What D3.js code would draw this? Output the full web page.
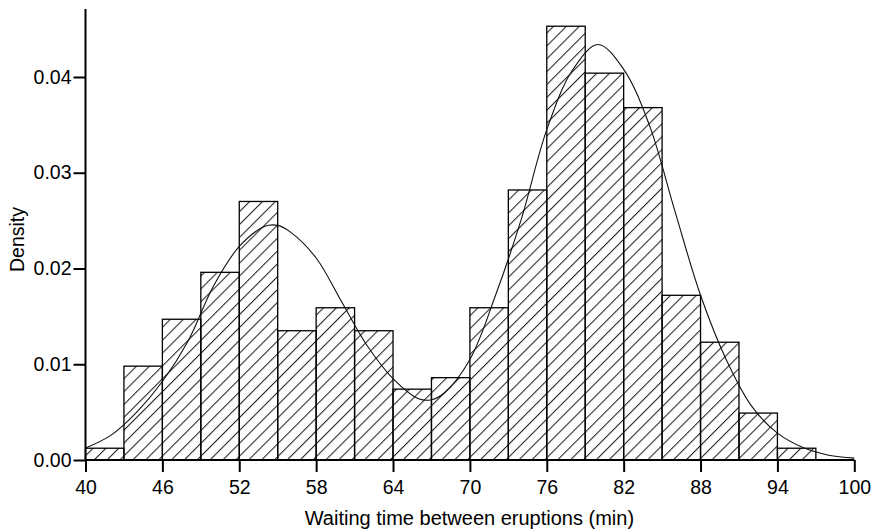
<!DOCTYPE html>
<html>
<head>
<meta charset="utf-8">
<script src="https://cdn.jsdelivr.net/npm/d3@7"></script>
<style>
  html, body { margin: 0; padding: 0; background: #fff; }
  svg { display: block; font-family: "Liberation Sans", Arial, Helvetica, sans-serif; }
</style>
</head>
<body>
<svg id="chart" width="875" height="532"></svg>
<script>
// ---- data ----
const binStarts = [40,43,46,49,52,55,58,61,64,67,70,73,76,79,82,85,88,91,94];
const binWidth = 3;
const densities = [0.00123,0.0098,0.0147,0.0196,0.0270,0.0135,0.0159,0.0135,0.0074,0.0086,
                   0.0159,0.0282,0.0453,0.0404,0.0368,0.0172,0.0123,0.0049,0.00123];
const curveX = [40,42,44,46,48,50,52,54,55,56,58,60,62,64,66,67,68,70,72,74,76,78,80,82,84,86,88,90,92,94,96,98,100];
const curveY = [0.00125,0.0026,0.0050,0.0082,0.0124,0.0182,0.0223,0.0244,0.0245,0.0238,0.0211,0.0165,0.0119,0.0085,
                0.0064,0.0063,0.0070,0.0105,0.0172,0.0251,0.0345,0.0407,0.0434,0.0408,0.0350,0.0260,0.0172,0.0105,
                0.0056,0.0028,0.0013,0.0005,0.0002];
const xTicks = [40,46,52,58,64,70,76,82,88,94,100];
const yTicks = [0,0.01,0.02,0.03,0.04];
const yTickLabels = ["0.00","0.01","0.02","0.03","0.04"];
const xTitle = "Waiting time between eruptions (min)";
const yTitle = "Density";

// ---- drawing ----
const svg = d3.select("#chart");
const x = d3.scaleLinear().domain([40, 100]).range([85.5, 854.3]);
const y = d3.scaleLinear().domain([0, 0.0471]).range([460, 9]);

const defs = svg.append("defs");
const pat = defs.append("pattern")
  .attr("id", "hatch")
  .attr("patternUnits", "userSpaceOnUse")
  .attr("width", 9.1).attr("height", 9.1)
  .attr("patternTransform", "rotate(45)");
pat.append("line")
  .attr("x1", 0.5).attr("y1", 0).attr("x2", 0.5).attr("y2", 9.1)
  .attr("stroke", "#222").attr("stroke-width", 1.1);

// bars
svg.append("g").selectAll("rect")
  .data(binStarts.map((s, i) => ({s, d: densities[i]})))
  .join("rect")
  .attr("x", d => x(d.s))
  .attr("width", d => x(d.s + binWidth) - x(d.s))
  .attr("y", d => y(d.d))
  .attr("height", d => y(0) - y(d.d))
  .attr("fill", "url(#hatch)")
  .attr("stroke", "#000")
  .attr("stroke-width", 1.3);

// density curve
const line = d3.line()
  .x((d, i) => x(curveX[i]))
  .y(d => y(d))
  .curve(d3.curveCatmullRom.alpha(0.5));
svg.append("path")
  .attr("d", line(curveY))
  .attr("fill", "none")
  .attr("stroke", "#111")
  .attr("stroke-width", 1.1);

// axes
const xAxis = d3.axisBottom(x).tickValues(xTicks).tickSize(12).tickPadding(8)
  .tickFormat(d3.format("d"));
const gx = svg.append("g").attr("transform", `translate(0,${y(0)})`).call(xAxis);
gx.select(".domain").remove();
gx.selectAll(".tick line").attr("stroke", "#000").attr("stroke-width", 2);
gx.selectAll("text").attr("font-size", 19.5).attr("fill", "#000")
  .attr("font-family", "'Liberation Sans', Arial, sans-serif");
gx.append("line")
  .attr("x1", x(40)).attr("x2", x(100)).attr("y1", 0).attr("y2", 0)
  .attr("stroke", "#000").attr("stroke-width", 2);

const yAxis = d3.axisLeft(y).tickValues(yTicks).tickSize(12).tickPadding(2)
  .tickFormat((d, i) => yTickLabels[i]);
const gy = svg.append("g").attr("transform", `translate(${x(40)},0)`).call(yAxis);
gy.select(".domain").remove();
gy.selectAll(".tick line").attr("stroke", "#000").attr("stroke-width", 2);
gy.selectAll("text").attr("font-size", 19.5).attr("fill", "#000")
  .attr("font-family", "'Liberation Sans', Arial, sans-serif");
gy.append("line")
  .attr("x1", 0).attr("x2", 0).attr("y1", y.range()[1]).attr("y2", y(0))
  .attr("stroke", "#000").attr("stroke-width", 2);

// titles
svg.append("text")
  .attr("x", (x(40) + x(100)) / 2 - 0.5)
  .attr("y", 524.5)
  .attr("text-anchor", "middle")
  .attr("font-size", 20)
  .attr("fill", "#000")
  .text(xTitle);

svg.append("text")
  .attr("transform", `translate(24,${(y(0) + y.range()[1]) / 2 + 5}) rotate(-90)`)
  .attr("text-anchor", "middle")
  .attr("font-size", 19.5)
  .attr("fill", "#000")
  .text(yTitle);
</script>
</body>
</html>
